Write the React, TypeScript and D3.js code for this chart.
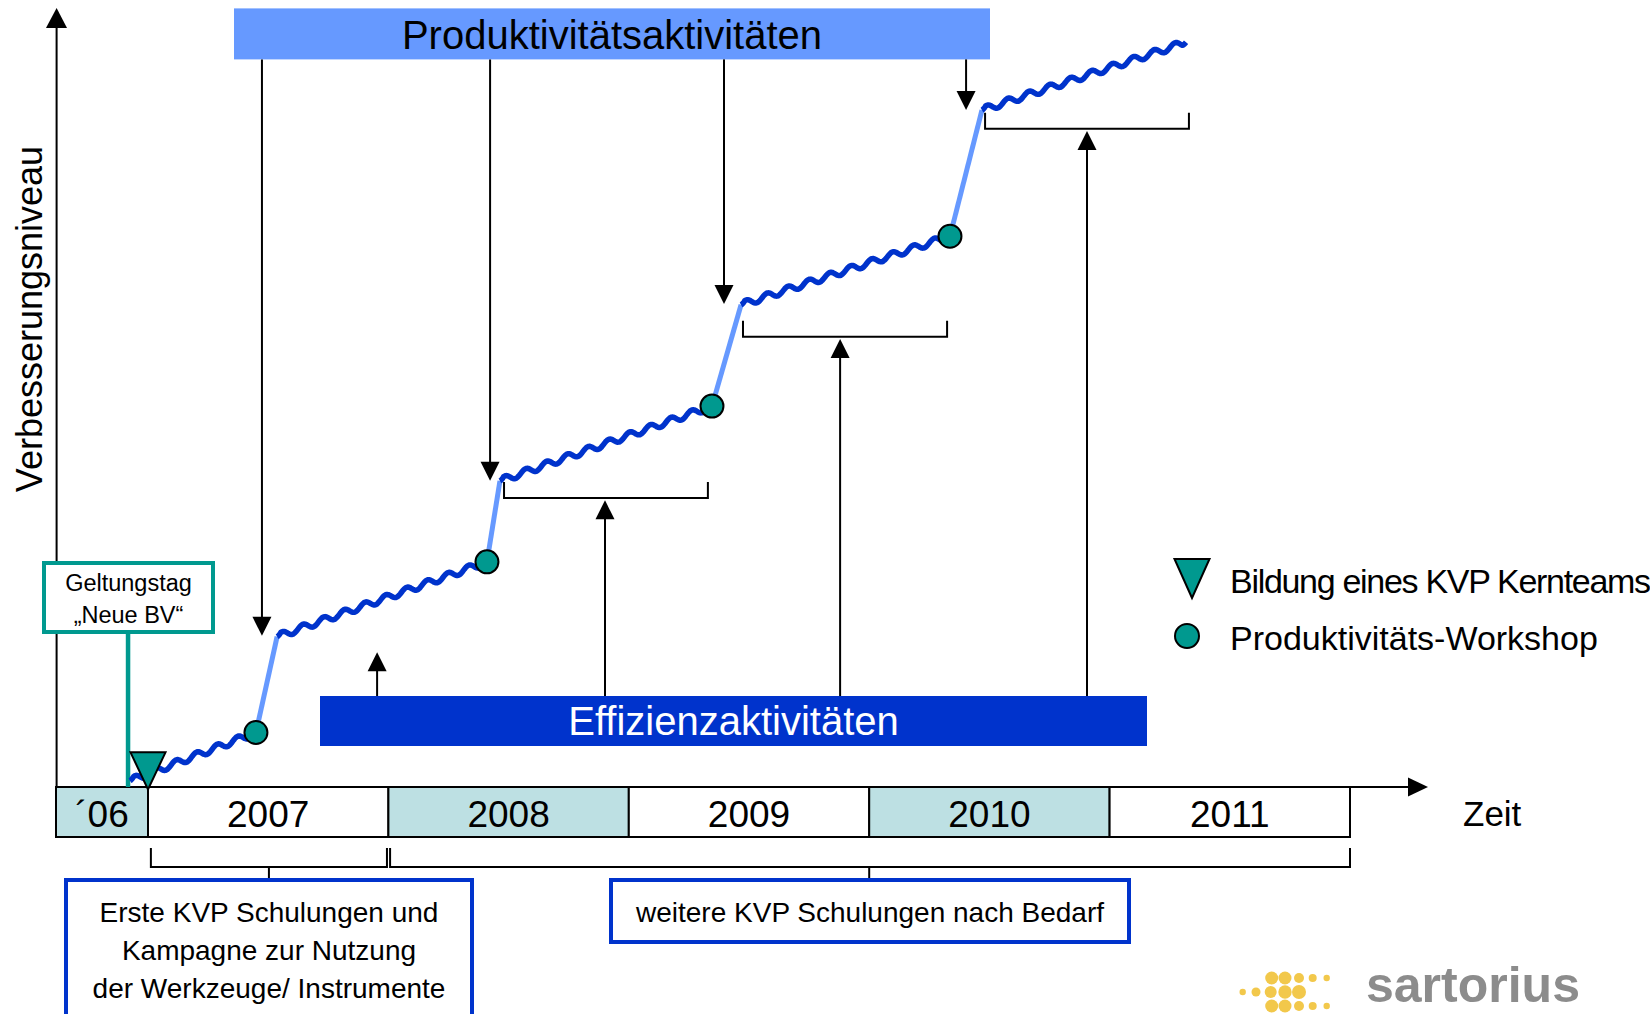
import React from "react";
import * as d3 from "d3";

// ---------- data ----------
const YEAR_LABELS = ["´06", "2007", "2008", "2009", "2010", "2011"];
const YEAR_START = [2006.617, 2007, 2008, 2009, 2010, 2011];
const YEAR_END = [2007, 2008, 2009, 2010, 2011, 2012];
const YEAR_SHADED = [true, false, true, false, true, false];

// improvement path: wave from each step start to the next workshop
const STEP_T = [2006.925, 2007.537, 2008.464, 2009.467, 2010.469];
const STEP_V = [0.08, 1.93, 3.93, 6.19, 8.69];
const WORKSHOP_T = [2007.449, 2008.41, 2009.346, 2010.336];
const WORKSHOP_V = [0.7, 2.89, 4.89, 7.07];
const END_T = 2011.318;
const END_V = 9.56;

const KERNTEAM_T = 2007.0;
const KERNTEAM_V = -0.03;
const GELTUNG_T = 2006.917;

const PROD_ARROW_T = [2007.474, 2008.423, 2009.396, 2010.403];
const PROD_ARROW_V = [1.94, 3.93, 6.2, 8.69];
const EFF_ARROW_T = [2007.953, 2008.901, 2009.879, 2010.906];
const EFF_ARROW_V = [1.73, 3.68, 5.75, 8.42];
const BRACKET_T0 = [2008.481, 2009.475, 2010.482];
const BRACKET_T1 = [2009.329, 2010.324, 2011.33];
const BRACKET_V = [3.71, 5.78, 8.45];

const TRAINING_T0 = [2007.012, 2008.007];
const TRAINING_T1 = [2007.994, 2012.0];
const TRAINING_MID = [2007.503, 2010.0];

const LOGO_DOTS_X = [1271.7, 1285, 1299, 1312.7, 1326.7, 1242.7, 1256, 1270.7, 1285, 1299, 1271.7, 1285, 1299, 1312.7, 1326.7];
const LOGO_DOTS_Y = [978, 978, 978, 978, 978, 992, 992, 992, 992, 992, 1006, 1006, 1006, 1006, 1006];
const LOGO_DOTS_R = [6.5, 6.5, 5, 4, 3.2, 3.2, 4.5, 6, 6.7, 7, 6.5, 6.5, 5, 4, 3.2];

// ---------- style ----------
const FONT = "'Liberation Sans', Arial, sans-serif";
const WAVE = "#0033cc";
const JUMP = "#6699ff";
const TEAL = "#00998f";
const BAND = "#bde0e3";

const W = 1650;
const H = 1014;

const x = d3.scaleLinear().domain([2007, 2012]).range([148, 1350]);
const y = d3.scaleLinear().domain([0, 10]).range([787, 8]);

function wavePath(t0: number, v0: number, t1: number, v1: number) {
  const x0 = x(t0), y0 = y(v0), x1 = x(t1), y1 = y(v1);
  const L = Math.hypot(x1 - x0, y1 - y0);
  const lambda = 22;
  const amp = 3.2;
  const pts: [number, number][] = [];
  const n = Math.ceil(L);
  for (let i = 0; i <= n; i++) {
    const f = i / n;
    const s = f * L;
    const env = Math.min(1, s / 4, (L - s) / 4);
    pts.push([x0 + (x1 - x0) * f, y0 + (y1 - y0) * f - amp * env * Math.sin((2 * Math.PI * s) / lambda)]);
  }
  return d3.line()(pts) || "";
}

function DownArrow({ ax, top, tip }: { ax: number; top: number; tip: number }) {
  return (
    <g>
      <line x1={ax} x2={ax} y1={top} y2={tip - 18} stroke="#000" strokeWidth={2} />
      <path d={`M${ax - 9.5},${tip - 19} L${ax + 9.5},${tip - 19} L${ax},${tip} Z`} fill="#000" />
    </g>
  );
}

function UpArrow({ ax, bottom, tip }: { ax: number; bottom: number; tip: number }) {
  return (
    <g>
      <line x1={ax} x2={ax} y1={bottom} y2={tip + 18} stroke="#000" strokeWidth={2} />
      <path d={`M${ax - 9.5},${tip + 19} L${ax + 9.5},${tip + 19} L${ax},${tip} Z`} fill="#000" />
    </g>
  );
}

export default function App() {
  const axisY = y(0);
  const bandTop = axisY;
  const bandBot = 837;

  return (
    <svg
      width={W}
      height={H}
      viewBox={`0 0 ${W} ${H}`}
      style={{ position: "absolute", left: 0, top: 0, background: "#fff" }}
      fontFamily={FONT}
    >
      <rect x={0} y={0} width={W} height={H} fill="#fff" />

      {/* Y axis */}
      <text
        transform={`translate(42,319) rotate(-90)`}
        textAnchor="middle"
        fontSize={36}
        fill="#000"
      >
        Verbesserungsniveau
      </text>
      <line x1={56.6} x2={56.6} y1={axisY} y2={27} stroke="#000" strokeWidth={2} />
      <path d="M46,28 L67,28 L56.6,8 Z" fill="#000" />

      {/* Year band */}
      {YEAR_LABELS.map((lab, i) => {
        const x0 = i === 0 ? 56 : x(YEAR_START[i]);
        const x1 = x(YEAR_END[i]);
        return (
          <g key={lab}>
            <rect
              x={x0}
              y={bandTop}
              width={x1 - x0}
              height={bandBot - bandTop}
              fill={YEAR_SHADED[i] ? BAND : "#fff"}
              stroke="#000"
              strokeWidth={2}
            />
            <text x={(x0 + x1) / 2} y={827} textAnchor="middle" fontSize={37} fill="#000">
              {lab}
            </text>
          </g>
        );
      })}

      {/* X axis */}
      <line x1={56} x2={1409} y1={axisY} y2={axisY} stroke="#000" strokeWidth={2} />
      <path d={`M1408,${axisY - 9.5} L1408,${axisY + 9.5} L1428,${axisY} Z`} fill="#000" />
      <text x={1463} y={826} fontSize={35} fill="#000">
        Zeit
      </text>

      {/* Produktivitätsaktivitäten box */}
      <rect x={234} y={8.4} width={756} height={51} fill={JUMP} />
      <text x={612} y={48.5} textAnchor="middle" fontSize={40} fill="#000">
        Produktivitätsaktivitäten
      </text>
      {PROD_ARROW_T.map((t, i) => (
        <DownArrow key={i} ax={x(t)} top={59.4} tip={y(PROD_ARROW_V[i])} />
      ))}

      {/* Effizienzaktivitäten box */}
      <rect x={320} y={696} width={827} height={50} fill={WAVE} />
      <text x={733.5} y={735} textAnchor="middle" fontSize={40} fill="#fff">
        Effizienzaktivitäten
      </text>
      {EFF_ARROW_T.map((t, i) => (
        <UpArrow key={i} ax={x(t)} bottom={696} tip={y(EFF_ARROW_V[i])} />
      ))}

      {/* brackets above the arrows */}
      {BRACKET_T0.map((t, i) => {
        const xa = x(t), xb = x(BRACKET_T1[i]);
        const yb = y(BRACKET_V[i]);
        return (
          <path
            key={i}
            d={`M${xa},${yb - 16} L${xa},${yb} L${xb},${yb} L${xb},${yb - 16}`}
            fill="none"
            stroke="#000"
            strokeWidth={2}
          />
        );
      })}

      {/* Geltungstag */}
      <line x1={x(GELTUNG_T)} x2={x(GELTUNG_T)} y1={632} y2={axisY} stroke={TEAL} strokeWidth={4.5} />
      <rect x={44} y={563} width={169} height={69} fill="#fff" stroke={TEAL} strokeWidth={4} />
      <text x={128.5} y={591} textAnchor="middle" fontSize={23.5} fill="#000">
        Geltungstag
      </text>
      <text x={128.5} y={623} textAnchor="middle" fontSize={23.5} fill="#000">
        „Neue BV“
      </text>

      {/* improvement path */}
      {WORKSHOP_T.map((t, i) => (
        <line
          key={"j" + i}
          x1={x(t)}
          y1={y(WORKSHOP_V[i])}
          x2={x(STEP_T[i + 1])}
          y2={y(STEP_V[i + 1])}
          stroke={JUMP}
          strokeWidth={5}
        />
      ))}
      {STEP_T.map((t, i) => {
        const t1 = i < WORKSHOP_T.length ? WORKSHOP_T[i] : END_T;
        const v1 = i < WORKSHOP_V.length ? WORKSHOP_V[i] : END_V;
        return (
          <path
            key={"w" + i}
            d={wavePath(t, STEP_V[i], t1, v1)}
            fill="none"
            stroke={WAVE}
            strokeWidth={5.5}
            strokeLinejoin="round"
          />
        );
      })}
      {WORKSHOP_T.map((t, i) => (
        <circle key={"c" + i} cx={x(t)} cy={y(WORKSHOP_V[i])} r={11.5} fill={TEAL} stroke="#000" strokeWidth={2} />
      ))}
      <path
        d={`M${x(KERNTEAM_T) - 17.5},${y(KERNTEAM_V) - 37} L${x(KERNTEAM_T) + 17.5},${y(KERNTEAM_V) - 37} L${x(KERNTEAM_T)},${y(KERNTEAM_V)} Z`}
        fill={TEAL}
        stroke="#000"
        strokeWidth={2}
        strokeLinejoin="miter"
      />

      {/* Legend */}
      <path d="M1174.5,559 L1209.5,559 L1192,598 Z" fill={TEAL} stroke="#000" strokeWidth={2} />
      <text x={1230} y={593} fontSize={34} letterSpacing={-1.3} fill="#000">
        Bildung eines KVP Kernteams
      </text>
      <circle cx={1187} cy={636} r={12} fill={TEAL} stroke="#000" strokeWidth={2} />
      <text x={1230} y={650} fontSize={34} fill="#000">
        Produktivitäts-Workshop
      </text>

      {/* Training brackets */}
      {TRAINING_T0.map((t, i) => {
        const xa = x(t), xb = x(TRAINING_T1[i]), xm = x(TRAINING_MID[i]);
        return (
          <g key={"tb" + i}>
            <path
              d={`M${xa},848 L${xa},867 L${xb},867 L${xb},848`}
              fill="none"
              stroke="#000"
              strokeWidth={2}
            />
            <line x1={xm} x2={xm} y1={867} y2={879} stroke="#000" strokeWidth={2} />
          </g>
        );
      })}
      <rect x={66} y={880} width={406} height={160} fill="#fff" stroke={WAVE} strokeWidth={4} />
      <text x={269} y={922} textAnchor="middle" fontSize={28} fill="#000">
        Erste KVP Schulungen und
      </text>
      <text x={269} y={960} textAnchor="middle" fontSize={28} fill="#000">
        Kampagne zur Nutzung
      </text>
      <text x={269} y={998} textAnchor="middle" fontSize={28} fill="#000">
        der Werkzeuge/ Instrumente
      </text>
      <rect x={611} y={880} width={518} height={62} fill="#fff" stroke={WAVE} strokeWidth={4} />
      <text x={870} y={922} textAnchor="middle" fontSize={28} fill="#000">
        weitere KVP Schulungen nach Bedarf
      </text>

      {/* Logo */}
      {LOGO_DOTS_X.map((dx, i) => (
        <circle key={"ld" + i} cx={dx} cy={LOGO_DOTS_Y[i]} r={LOGO_DOTS_R[i]} fill="#f2c84b" />
      ))}
      <text x={1366} y={1002} fontSize={50} fontWeight="bold" fill="#8c8c8c">
        sartorius
      </text>
    </svg>
  );
}
